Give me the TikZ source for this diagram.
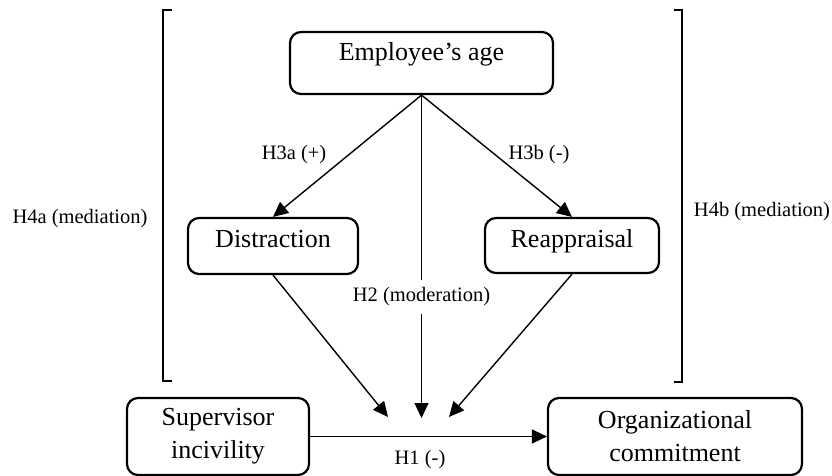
\documentclass[tikz,border=0pt]{standalone}
\usepackage{fontspec}
\setmainfont{Liberation Serif}
\usetikzlibrary{arrows.meta}
\begin{document}
\begin{tikzpicture}[x=1pt,y=-1pt,
  box/.style={draw, line width=2.2pt, rounded corners=11pt, inner sep=0pt},
  big/.style={font=\fontsize{26}{33}\selectfont, inner sep=0pt, align=center},
  lab/.style={font=\fontsize{20.5}{24}\selectfont, inner sep=0pt},
  conn/.style={line width=1.4pt, -{Triangle[length=15pt,width=14pt]}},
  brk/.style={line width=1.4pt}]
\useasboundingbox (0,0) rectangle (832,476);

% boxes
\node[box, minimum width=263pt, minimum height=62pt] (emp) at (421.5,63) {};
\node[big, anchor=base] (empt) at (421.5,61) {Employee’s age};
\node[box, minimum width=170pt, minimum height=56pt] (dis) at (273,246) {};
\node[big, anchor=base] (dist) at (273,247) {Distraction};
\node[box, minimum width=174pt, minimum height=55pt] (rea) at (572,245.5) {};
\node[big, anchor=base] (reat) at (572,247) {Reappraisal};
\node[box, minimum width=182pt, minimum height=77pt, big] (sup) at (218,436.5) {Supervisor\\incivility};
\node[box, minimum width=254pt, minimum height=77pt, big] (org) at (675,436.5) {Organizational\\commitment};

% brackets
\draw[brk] (172,10) -- (163,10) -- (163,381) -- (172,381);
\draw[brk] (674,10) -- (682,10) -- (682,382) -- (674,382);

% meeting points
\coordinate (tipL) at (388,417);
\coordinate (tipM) at (421.5,418);
\coordinate (tipR) at (449,417);

% connectors
\draw[conn] (emp.south) -- (dis.north);
\draw[conn] (emp.south) -- (rea.north);
\draw[conn] (emp.south) -- (tipM);
\draw[conn] (dis.south) -- (tipL);
\draw[conn] (rea.south) -- (tipR);
\draw[conn] (sup.east) -- (org.west);

% labels
\node[lab] (h3a) at (294,155) {H3a (+)};
\node[lab] (h3b) at (539,155) {H3b (-)};
\node[lab, fill=white, inner xsep=2pt, inner ysep=8pt] (h2) at (421.5,297) {H2 (moderation)};
\node[lab] (h4a) at (80,219) {H4a (mediation)};
\node[lab] (h4b) at (762,212) {H4b (mediation)};
\node[lab] (h1) at (420,460) {H1 (-)};
\end{tikzpicture}
\end{document}
